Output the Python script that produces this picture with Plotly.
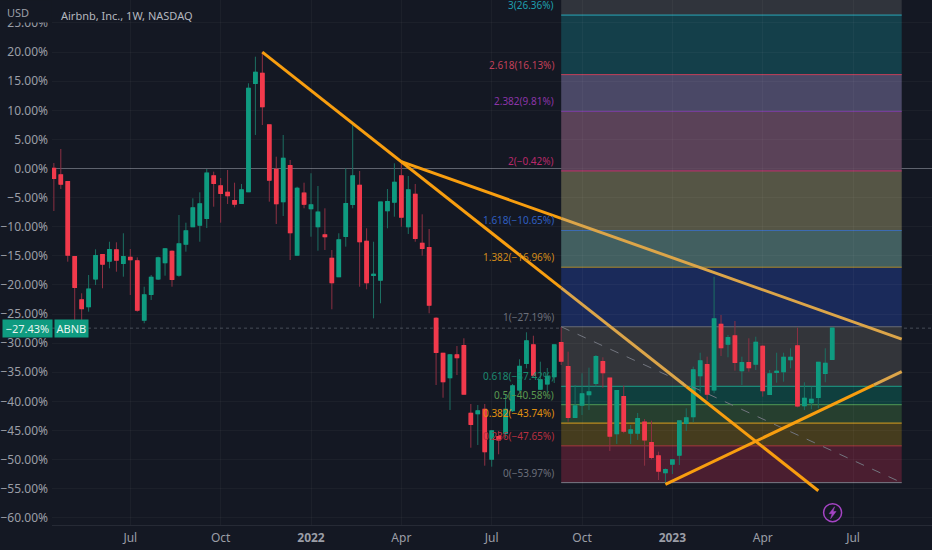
import pandas as pd
import plotly.graph_objects as go

BG = "#141823"
TICK = "#9b9ea7"
UP_BODY = "#0f9b80"
DOWN_BODY = "#f23a4c"
UP_WICK = "#1c6f62"
DOWN_WICK = "#8c3043"
ORANGE = "#f89e0f"
ORANGE_PALE = "#dca549"
GRID = "rgba(255,255,255,0.035)"
FONT = "Noto Sans"

weeks = pd.date_range("2021-04-19", periods=113, freq="W-MON")

opens = [0.03,-1.12,-2.27,-15.15,-22.59,-23.74,-18.98,-14.81,-15.89,-14.0,-16.29,-15.26,-15.89,-26.03,-21.61,-18.98,-16.18,-14.23,-18.3,-12.97,
         -10.0,-9.71,-8.56,-1.29,-3.01,-4.09,-5.53,-5.98,-3.99,14.64,16.36,7.47,-0.14,-5.7,0.48,-14.86,-4.24,-6.91,-10.0,-11.42,
         -15.43,-18.59,-11.65,-6.15,-2.89,-12.51,-18.35,-19.16,-7.25,-5.76,-1.29,-10.0,-4.43,-12.85,-13.61,-25.74,-31.75,-35.94,-32.04,-30.44,
         -42.06,-42.13,-41.37,-49.91,-46.08,-45.49,-41.58,-38.05,-33.47,-30.32,-37.88,-37.02,-35.77,-29.93,-34.05,-42.74,-40.63,-38.86,-36.9,-33.19,
         -36.04,-45.56,-39.2,-45.44,-45.44,-43.6,-47.1,-49.39,-52.26,-50.77,-49.22,-43.77,-42.64,-35.6,-33.71,-38.05,-26.77,-30.15,-28.78,-34.74,
         -33.36,-33.59,-30.55,-38.79,-35.01,-34.91,-32.85,-30.49,-40.75,-40.24,-39.31,-35.19,-32.78]
closes = [-1.68,-2.66,-14.86,-20.41,-24.05,-20.75,-14.98,-16.41,-13.95,-15.72,-15.15,-15.67,-24.31,-21.73,-18.69,-15.38,-13.83,-19.04,-12.97,-10.74,
          -6.79,-6.1,-0.82,-2.54,-4.26,-4.67,-6.1,-3.69,13.78,16.53,10.62,-1.98,-6.05,1.75,-11.03,-3.4,-6.13,-6.27,-7.52,-11.72,
          -19.62,-12.28,-6.05,-1.29,-12.58,-19.62,-18.18,-5.76,-5.7,-2.37,-8.33,-3.69,-11.99,-13.71,-23.45,-31.58,-36.63,-32.04,-32.5,-38.74,
          -43.95,-41.66,-48.65,-45.1,-46.64,-41.37,-37.37,-34.02,-29.64,-35.48,-36.34,-35.77,-30.32,-33.07,-42.74,-40.8,-38.74,-38.4,-32.33,-35.08,
          -45.96,-38.17,-45.1,-44.93,-42.98,-46.64,-49.61,-51.97,-51.75,-50.08,-43.38,-42.86,-34.62,-33.07,-38.74,-25.86,-30.79,-29.07,-33.3,-33.36,
          -34.22,-29.86,-38.17,-35.31,-34.84,-32.44,-32.44,-40.8,-39.48,-39.65,-33.3,-33.47,-27.43]
highs = [0.94,3.35,-2.2,-15.03,-21.44,-18.3,-13.88,-14.69,-12.58,-12.68,-11.13,-13.83,-15.26,-20.31,-18.3,-15.15,-13.66,-14.09,-7.99,-9.31,
         -5.12,-4.09,-0.09,-0.55,-1.63,-0.26,-2.44,-2.66,14.64,19.21,20.07,7.47,2.03,5.76,1.46,-3.13,-2.44,-0.82,-3.01,-6.84,
         -14.0,-11.13,0.03,8.04,-0.43,-10.27,-12.58,-5.76,-3.52,0.89,1.17,-1.29,-2.66,-7.87,-10.39,-25.56,-31.7,-31.87,-30.5,-29.17,
         -40.46,-40.63,-40.46,-44.93,-45.1,-38.74,-37.02,-32.78,-28.14,-28.73,-33.19,-34.27,-30.32,-27.23,-31.47,-37.2,-35.18,-34.22,-32.04,-32.44,
         -35.99,-38.05,-37.31,-44.07,-42.0,-43.04,-43.33,-48.65,-51.54,-50.08,-43.38,-41.2,-34.05,-31.65,-32.33,-18.59,-25.17,-28.6,-26.2,-32.33,
         -29.17,-28.9,-30.32,-34.62,-31.65,-31.65,-30.89,-27.35,-36.73,-37.49,-33.24,-30.89,-27.4]
lows = [-7.3,-3.52,-16.01,-26.03,-26.03,-24.6,-20.01,-20.58,-17.15,-17.73,-18.59,-21.73,-24.6,-26.59,-22.59,-19.16,-18.42,-20.31,-18.59,-14.29,
        -10.0,-12.58,-10.22,-6.56,-9.31,-6.1,-6.67,-5.98,-3.99,5.76,7.47,-5.7,-9.53,-8.16,-15.72,-14.86,-6.84,-11.72,-14.12,-14.0,
        -24.19,-18.64,-13.43,-6.84,-20.31,-20.75,-25.74,-23.16,-10.27,-8.28,-10.0,-11.25,-12.58,-14.98,-24.88,-37.2,-39.38,-41.49,-35.48,-38.74,
        -47.97,-47.5,-51.06,-51.23,-49.1,-46.35,-41.83,-38.4,-34.33,-35.99,-38.05,-38.57,-36.85,-33.76,-43.5,-42.74,-42.35,-41.49,-37.49,-37.66,
        -48.53,-47.33,-45.49,-47.33,-46.64,-51.06,-49.96,-53.52,-54.03,-52.49,-50.94,-45.1,-43.6,-38.62,-39.77,-38.62,-32.21,-32.44,-34.74,-37.2,
        -34.91,-34.62,-39.2,-38.79,-36.8,-36.63,-34.33,-41.03,-41.49,-41.37,-41.2,-36.73,-32.9]

y_ticks = [25, 20, 15, 10, 5, 0, -5, -10, -15, -20, -25, -30, -35, -40, -45, -50, -55, -60]
x_tick_dates = ["2021-07-05", "2021-10-04", "2022-01-03", "2022-04-04", "2022-07-04",
                "2022-10-03", "2023-01-02", "2023-04-03", "2023-07-03"]
x_tick_labels = ["Jul", "Oct", "<b>2022</b>", "Apr", "Jul", "Oct", "<b>2023</b>", "Apr", "Jul"]

fib_ratios = ["3", "2.618", "2.382", "2", "1.618", "1.382", "1", "0.618", "0.5", "0.382", "0.236", "0"]
fib_values = [26.36, 16.13, 9.81, -0.42, -10.65, -16.96, -27.19, -37.42, -40.58, -43.74, -47.65, -53.97]
fib_line_colors = ["#2aa7b8", "#c2405a", "#7b3fa3", "#c22f6b", "#3d6cb4", "#b08c2c", "#686c78",
                   "#1f9e88", "#4f9a55", "#d9a020", "#a83c3c", "#787b86"]
fib_text_colors = ["#1f9fae", "#c0405a", "#8b35a8", "#b9296a", "#2f5fc0", "#d08a1a", "#6b6f7a",
                   "#1c8a70", "#5a9a50", "#e09010", "#b83040", "#6b6f7a"]
fib_band_colors = ["#143f4a", "#4a4866", "#5a4258", "#555545", "#425f60", "#1a2a5a", "#33353a",
                   "#0f3f3e", "#263f2f", "#453c1e", "#4a1e30"]
fib_top_band = "#30343c"
fib_start, fib_end = "2022-09-12", "2023-08-21"

trend_a_dates = ["2021-11-15", "2022-09-12", "2023-01-16", "2023-05-29"]
trend_a_values = [20.0, -20.51, -37.46, -55.36]
trend_b_dates = ["2022-04-04", "2022-09-12", "2023-08-21"]
trend_b_values = [1.17, -8.56, -29.3]
trend_c_dates = ["2022-12-26", "2023-07-24", "2023-08-21"]
trend_c_values = [-54.26, -37.18, -34.9]

last_value = -27.43
y_range = [-61.25, 28.95]
x_range = ["2021-04-17 03:00", "2023-09-20 12:00"]

L, W = 52, 880


def px(p):
    return (p - L) / W


body_top = [max(o, c) for o, c in zip(opens, closes)]
body_bot = [min(o, c) for o, c in zip(opens, closes)]

fig = go.Figure()
fig.add_trace(go.Candlestick(
    x=weeks, open=opens, high=highs, low=lows, close=closes,
    increasing=dict(line=dict(color=UP_WICK, width=1), fillcolor=UP_WICK),
    decreasing=dict(line=dict(color=DOWN_WICK, width=1), fillcolor=DOWN_WICK),
    showlegend=False))
fig.add_trace(go.Candlestick(
    x=weeks, open=opens, high=body_top, low=body_bot, close=closes,
    increasing=dict(line=dict(color=UP_BODY, width=1.3), fillcolor=UP_BODY),
    decreasing=dict(line=dict(color=DOWN_BODY, width=1.3), fillcolor=DOWN_BODY),
    showlegend=False))
fig.add_trace(go.Scatter(
    x=[fib_start, fib_end], y=[fib_values[6], fib_values[11]], mode="lines",
    line=dict(color="#72757f", width=1, dash="dash"), showlegend=False))


def trend(xs, ys, color):
    fig.add_trace(go.Scatter(x=xs, y=ys, mode="lines", line=dict(color=color, width=3), showlegend=False))


trend(trend_a_dates[:2], trend_a_values[:2], ORANGE)
trend(trend_a_dates[1:3], trend_a_values[1:3], ORANGE_PALE)
trend(trend_a_dates[2:], trend_a_values[2:], ORANGE)
trend(trend_b_dates[:2], trend_b_values[:2], ORANGE)
trend(trend_b_dates[1:], trend_b_values[1:], ORANGE_PALE)
trend(trend_c_dates[:2], trend_c_values[:2], ORANGE)
trend(trend_c_dates[1:], trend_c_values[1:], ORANGE_PALE)

shapes = []
shapes.append(dict(type="rect", xref="x", yref="y", x0=fib_start, x1=fib_end,
                   y0=fib_values[0], y1=y_range[1], fillcolor=fib_top_band,
                   line_width=0, layer="below"))
for i, color in enumerate(fib_band_colors):
    shapes.append(dict(type="rect", xref="x", yref="y", x0=fib_start, x1=fib_end,
                       y0=fib_values[i + 1], y1=fib_values[i], fillcolor=color,
                       line_width=0, layer="below"))
for value, color in zip(fib_values, fib_line_colors):
    shapes.append(dict(type="line", xref="x", yref="y", x0=fib_start, x1=fib_end,
                       y0=value, y1=value, line=dict(color=color, width=1), layer="below"))
shapes.append(dict(type="line", xref="paper", yref="y", x0=0, x1=1, y0=0, y1=0,
                   line=dict(color="#5a5e69", width=1), layer="below"))
shapes.append(dict(type="line", xref="paper", yref="y", x0=0, x1=1, y0=last_value, y1=last_value,
                   line=dict(color="#474d57", width=1, dash="dot"), layer="below"))
# flash badge
shapes.append(dict(type="circle", xref="paper", yref="paper", xsizemode="pixel", ysizemode="pixel",
                   xanchor=px(832.6), yanchor=(525 - 512.7) / 525, x0=-9, x1=9, y0=-9, y1=9,
                   line=dict(color="#a544c4", width=1.5)))
shapes.append(dict(type="path", xref="paper", yref="paper", xsizemode="pixel", ysizemode="pixel",
                   xanchor=px(832.6), yanchor=(525 - 512.7) / 525,
                   path="M 2 6 L -3.5 -1 L -0.5 -1 L -2 -6 L 3.5 1.2 L 0.5 1.2 Z",
                   fillcolor="#a544c4", line=dict(color="#a544c4", width=0.5)))

annotations = []
for ratio, value, color in zip(fib_ratios, fib_values, fib_text_colors):
    text = f"{ratio}({value:.2f}%)".replace("-", "\u2212")
    annotations.append(dict(xref="x", yref="y", x="2022-09-05", y=value, text=text,
                            xanchor="right", yanchor="bottom", xshift=1, yshift=2, showarrow=False,
                            font=dict(family=FONT, size=10, color=color), borderpad=0))
annotations.append(dict(xref="paper", yref="paper", x=0, y=1, xanchor="right", yanchor="top",
                        text=" ", width=52, height=21, bgcolor=BG,
                        showarrow=False, borderpad=0))
annotations.append(dict(xref="paper", yref="paper", x=px(18), y=(525 - 12.5) / 525, xanchor="center",
                        yanchor="middle", text="USD", showarrow=False,
                        font=dict(family=FONT, size=11, color=TICK), borderpad=0))
annotations.append(dict(xref="paper", yref="paper", x=px(60), y=(525 - 15.5) / 525, xanchor="left",
                        yanchor="middle", text="Airbnb, Inc., 1W, NASDAQ", showarrow=False,
                        font=dict(family=FONT, size=11, color="#b4b7bf"), borderpad=0))
annotations.append(dict(xref="paper", yref="y", x=px(53.3), y=last_value, xanchor="right", yanchor="middle",
                        text="\u221227.43%", width=48.8, height=16.5, bgcolor="#0f9b80", showarrow=False,
                        font=dict(family=FONT, size=11, color="#e8f5f1"), borderpad=0))
annotations.append(dict(xref="paper", yref="y", x=px(54.3), y=last_value, xanchor="left", yanchor="middle",
                        text="ABNB", width=32.7, height=16.5, bgcolor="#0f9b80", showarrow=False,
                        font=dict(family=FONT, size=11, color="#e8f5f1"), borderpad=0))

fig.update_layout(
    width=932, height=550, margin=dict(l=L, r=0, t=0, b=25),
    paper_bgcolor=BG, plot_bgcolor=BG, showlegend=False,
    font=dict(family=FONT, size=11, color=TICK),
    shapes=shapes, annotations=annotations,
    hovermode=False,
    xaxis=dict(type="date", range=x_range, rangeslider=dict(visible=False),
               tickmode="array", tickvals=x_tick_dates, ticktext=x_tick_labels,
               showgrid=True, gridcolor=GRID, gridwidth=1, zeroline=False,
               showline=True, linecolor="#262a35", ticks="", ticklabelstandoff=2,
               tickfont=dict(size=12, color=TICK)),
    yaxis=dict(range=y_range, tickmode="array", tickvals=y_ticks,
               ticktext=[f"{v:.2f}%".replace("-", "\u2212") for v in y_ticks],
               showgrid=True, gridcolor=GRID, gridwidth=1, zeroline=False,
               showline=False, ticks="", ticklabelstandoff=3, tickfont=dict(size=12, color=TICK)),
)

fig.write_html("out.html", post_script=f"document.body.style.margin='0';document.body.style.background='{BG}';",
               config=dict(displayModeBar=False))
